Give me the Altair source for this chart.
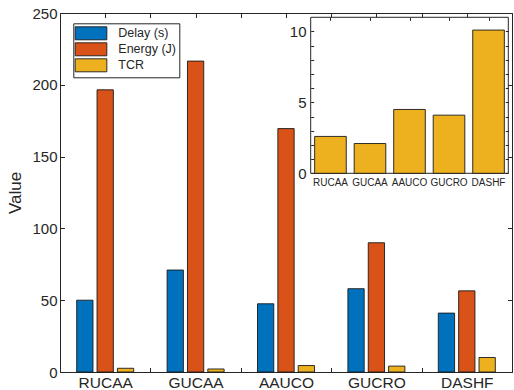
import altair as alt
import pandas as pd

categories = ["RUCAA", "GUCAA", "AAUCO", "GUCRO", "DASHF"]
series = ["Delay (s)", "Energy (J)", "TCR"]
delay = [50, 71, 47.5, 58, 41]
energy = [196.5, 216.5, 169.5, 90, 56.5]
tcr = [2.6, 2.1, 4.5, 4.1, 10.1]
colors = ["#0072BD", "#D95319", "#EDB120"]
main_ticks = [0, 50, 100, 150, 200, 250]
inset_ticks = [0, 1, 2, 3, 4, 5, 6, 7, 8, 9, 10]

rows = []
for i, c in enumerate(categories):
    for s, vals in zip(series, [delay, energy, tcr]):
        rows.append({"category": c, "series": s, "value": vals[i]})
df = pd.DataFrame(rows)
inset_df = pd.DataFrame({"category": categories, "value": tcr})

W, H = 452, 359
FONT = "Liberation Sans"
AX = "#262626"
EDGE = "#1a1a1a"

x_main = alt.Scale(domain=categories, paddingInner=0, paddingOuter=0)
y_main = alt.Scale(domain=[0, 250], nice=False)

bars = alt.Chart(df).mark_bar(stroke=EDGE, strokeWidth=0.9).encode(
    x=alt.X("category:N", scale=x_main, axis=alt.Axis(
        orient="bottom", title=None, domain=False, tickBand="extent",
        tickSize=4.5, offset=-4.5, labelPadding=3, labelFontSize=15.5,
        labelAngle=0)),
    xOffset=alt.XOffset("series:N", scale=alt.Scale(
        domain=series, paddingInner=0.2, paddingOuter=0.82)),
    y=alt.Y("value:Q", scale=y_main, axis=alt.Axis(
        orient="left", title="Value", values=main_ticks, domain=False,
        grid=False, tickSize=4.5, offset=-4.5, labelPadding=3,
        labelFontSize=15, titleFontSize=17, titleFontWeight="normal",
        titlePadding=7)),
    color=alt.Color("series:N", scale=alt.Scale(domain=series, range=colors),
                    legend=alt.Legend(
                        title=None, orient="none", legendX=13.3, legendY=10.3,
                        fillColor="white", strokeColor=AX, padding=3,
                        symbolType="M-1.25,-1H3.62V1H-1.25Z", symbolSize=169,
                        symbolStrokeColor=EDGE, symbolStrokeWidth=0.9,
                        symbolOpacity=1, labelFontSize=12.5, labelOffset=28,
                        rowPadding=-2, labelColor=AX)),
)

mirror1 = alt.Chart(df).mark_point(opacity=0).encode(
    x=alt.X("category:N", scale=x_main, axis=alt.Axis(
        orient="top", title=None, labels=False, domain=False,
        tickSize=4.5, offset=-4.5)),
    y=alt.Y("value:Q", scale=y_main, axis=alt.Axis(
        orient="right", title=None, labels=False, domain=False, grid=False,
        values=main_ticks, tickSize=4.5, offset=-4.5)),
)

mirror2 = alt.Chart(df).mark_point(opacity=0).encode(
    x=alt.X("category:N", scale=x_main, axis=alt.Axis(
        orient="top", title=None, labels=False, domain=False,
        tickBand="extent", tickSize=4.5, offset=-4.5)),
    y=alt.Y("value:Q", scale=y_main, axis=None),
)

IX0, IX1, IY0, IY1 = 250.7, 448.3, 4.3, 160.3
x_in = alt.Scale(domain=categories, range=[IX0, IX1], paddingInner=0.2, paddingOuter=0.1)
y_in = alt.Scale(domain=[0, 11], range=[IY1, IY0], nice=False)

inset_bg = alt.Chart(alt.Data(values=[{}])).mark_rect(
    fill="white", stroke=AX, strokeWidth=1).encode(
    x=alt.value(IX0), x2=alt.value(IX1), y=alt.value(IY0), y2=alt.value(IY1))

inset = alt.Chart(inset_df).mark_bar(color="#EDB120", stroke=EDGE, strokeWidth=0.9).encode(
    x=alt.X("category:N", scale=x_in, axis=alt.Axis(
        orient="bottom", title=None, domain=False, ticks=False,
        offset=IY1 - H, labelPadding=4, labelFontSize=10, labelAngle=0,
        labelOverlap=False, zindex=1)),
    y=alt.Y("value:Q", scale=y_in, axis=alt.Axis(
        orient="left", title=None, values=inset_ticks,
        labelExpr="datum.value % 5 === 0 ? datum.label : ''",
        domain=False, grid=False, tickSize=3, offset=-(IX0 + 3),
        labelPadding=4.7, labelFontSize=15, zindex=1)),
)

inset_mirror = alt.Chart(inset_df).mark_point(opacity=0).encode(
    x=alt.X("category:N", scale=x_in, axis=alt.Axis(
        orient="top", title=None, labels=False, domain=False,
        tickSize=3, offset=-(IY0 + 3), zindex=1)),
    y=alt.Y("value:Q", scale=y_in, axis=alt.Axis(
        orient="right", title=None, labels=False, domain=False, grid=False,
        values=inset_ticks, tickSize=3, offset=(IX1 - 3) - W, zindex=1)),
)

chart = alt.layer(bars, mirror1, mirror2, inset_bg, inset, inset_mirror).resolve_scale(
    x="independent", y="independent"
).properties(
    width=W, height=H,
    padding={"left": 60, "top": 13, "right": 2, "bottom": 18},
    autosize=alt.AutoSizeParams(type="none"),
    background="white",
).configure_axis(
    labelFont=FONT, titleFont=FONT, labelColor=AX, tickColor=AX,
    titleColor=AX, tickWidth=1,
).configure_legend(
    labelFont=FONT,
).configure_view(
    stroke=AX, strokeWidth=1,
)

chart.save("out.html", embed_options={"renderer": "svg", "actions": False})
